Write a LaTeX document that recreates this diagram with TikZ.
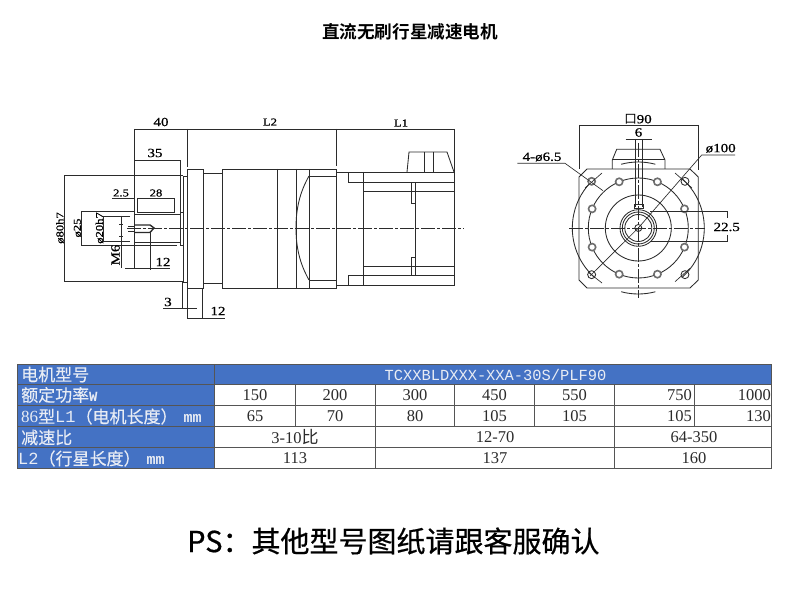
\documentclass[tikz,border=0pt]{standalone}
\usepackage{fontspec}
\setmainfont{Liberation Serif}
\newfontfamily\cjk{Noto Sans CJK SC}
\newfontfamily\cjkmed[FakeBold=0.6]{Noto Sans CJK SC}
\newfontfamily\cjkhead[FakeBold=0.25]{Noto Sans CJK SC}
\newfontfamily\cjkbold[BoldFont={Noto Sans CJK SC Bold}]{Noto Sans CJK SC}
\newfontfamily\monof{Liberation Mono}
\newfontfamily\dimf[FakeStretch=1.2,FakeBold=0.8]{Liberation Serif}
\definecolor{ink}{HTML}{2B2B2B}
\definecolor{gridc}{HTML}{555555}
\definecolor{headblue}{HTML}{4472C4}
\definecolor{headtext}{HTML}{E8ECF4}
\definecolor{holec}{HTML}{6E6E6E}
\tikzset{
  base/.style={draw=ink, line width=0.85pt},
  thin/.style={draw=ink, line width=0.65pt},
  axisl/.style={draw=ink, line width=0.6pt, dash pattern=on 14pt off 2pt on 3pt off 2pt},
  grid/.style={draw=gridc, line width=0.7pt},
  hole/.style={draw=holec, line width=1.6pt},
  dim/.style={text=black, font=\dimf\fontsize{12.5}{12.5}\selectfont, inner sep=0pt},
  dims/.style={text=black, font=\dimf\fontsize{10.5}{10.5}\selectfont, inner sep=0pt},
  dimb/.style={text=black, font=\dimf\fontsize{12.5}{12.5}\selectfont, inner sep=0pt},
  num/.style={text=ink, font=\fontsize{16.5}{16.5}\selectfont, inner sep=0pt},
  head/.style={text=headtext, font=\cjkhead\fontsize{17}{17}\selectfont, inner sep=0pt, anchor=west},
}
\newcommand{\mmlab}{{\bfseries\monof\fontsize{15}{15}\selectfont mm}}

\begin{document}
\begin{tikzpicture}[x=1pt,y=-1pt]
  \useasboundingbox[fill=white] (0,0) rectangle (790,601);

  \node[font=\cjkbold\bfseries\fontsize{17.6}{17.6}\selectfont] (title) at (410,32) {直流无刷行星减速电机};

  % side view, gearbox
  \draw[base] (180,212) rectangle (183,245);
  \draw[base] (183,176) rectangle (187,282);
  \draw[base] (187,169) rectangle (203,288);
  \draw[base] (203,173) rectangle (222,283);
  \draw[base] (222,169) rectangle (336,288);
  \foreach \x in {277,296,309}{\draw[base] (\x,169)--(\x,288);}
  \draw[base] (309,176)--(336,176) (309,280)--(336,280);
  \draw[base] (309,176) .. controls (300,192) and (296,208) .. (296,228) .. controls (296,248) and (300,264) .. (309,280);

  % side view, motor
  \draw[base] (336,172) rectangle (454,285);
  \draw[base] (348,172) rectangle (363,182);
  \draw[base] (348,275) rectangle (363,285);
  \draw[base] (363,172)--(363,285);
  \draw[base] (363,182)--(454,182) (363,191)--(454,191) (363,266)--(454,266) (363,275)--(454,275);
  \draw[base] (411,182) rectangle (415,203);
  \draw[base] (411,257) rectangle (415,275);
  \draw[base] (415,203)--(415,257);
  \draw[base] (407,172)--(409,152)--(447,152)--(454,172);
  \draw[base] (424,152)--(424,172) (433,152)--(433,172);

  % side view, shaft
  \draw[base] (134,214)--(180,214) (134,242)--(180,242) (134,214)--(134,242);
  \draw[base] (137,212.5)--(174,212.5);
  \draw[thin] (140,245)--(177,245);
  \draw[line width=1.4pt,draw=ink] (134,225)--(150,225)--(154,228)--(150,232.5)--(134,232.5);
  \draw[thin] (128,226)--(134,226) (128,231)--(134,231);
  \draw[axisl] (127,228)--(464,228);

  % side view, dimensions
  \draw[thin] (134.5,129)--(454,129);
  \draw[thin] (134.5,129)--(134.5,214);
  \draw[thin] (187,129)--(187,167) (187,288)--(187,318);
  \draw[thin] (336,129)--(336,166);
  \draw[thin] (454,129)--(454,172);
  \draw[thin] (134.5,160)--(180.5,160)--(180.5,212);
  \draw[thin] (112,198)--(134.5,198);
  \draw[thin] (137.3,213)--(137.3,198)--(174.3,198)--(174.3,213);
  \draw[thin] (134,211.7)--(81,211.7)--(81,245)--(140,245);
  \draw[thin] (130,216)--(103,216)--(103,241.7)--(130,241.7);
  \draw[thin] (183,175.7)--(64,175.7)--(64,281.7)--(183,281.7);
  \draw[thin] (121,216)--(121,268);
  \draw[thin] (119,224)--(123,224) (119,236)--(123,236);
  \draw[thin] (125,268)--(170,268);
  \draw[thin] (134,242)--(134,268) (150,232)--(150,270);
  \draw[thin] (182.7,282)--(182.7,308) (163,308)--(197,308);
  \draw[thin] (202.7,288)--(202.7,318) (187,318)--(225,318);

  \node[dim] (d40) at (161,122) {40};
  \node[dim] (d35) at (155,153) {35};
  \node[dims] (d28) at (156,193) {28};
  \node[dims] (d25) at (121,193) {2.5};
  \node[dims] (dl2) at (270,122) {L2};
  \node[dims] (dl1) at (401,123) {L1};
  \node[dims,rotate=90] (dphi80) at (60,228) {ø80h7};
  \node[dims,rotate=90] (dphi25) at (77.5,228) {ø25};
  \node[dims,rotate=90] (dphi20) at (99.5,228) {ø20h7};
  \node[dim,rotate=90] (dm6) at (115.5,255) {M6};
  \node[dim] (d12a) at (163,262) {12};
  \node[dim] (d3) at (168,302) {3};
  \node[dim] (d12b) at (218,311) {12};

  % front view
  \coordinate (C) at (638.3,228);
  \draw[base] (587,169)--(690,169)--(698.3,177)--(698.3,280)--(690,288)--(587,288)--(579,280)--(579,177)--cycle;
  \draw[base] (612.3,169)--(612.3,160)--(616.7,149.3)--(660,149.3)--(665,160)--(665,169);
  \draw[base] (612.3,159.5)--(665,159.5);
  \draw[base] ([shift={(132:66)}]C) arc (132:228:66);
  \draw[base] ([shift={(-48:66)}]C) arc (-48:48:66);
  \draw[base] ([shift={(255:66)}]C) arc (255:285:66);
  \draw[base] ([shift={(75:66)}]C) arc (75:105:66);
  \foreach \r in {50,33,18.3,16,13.5}{\draw[base] (C) circle (\r);}
  \draw[base,fill=white] (C) circle (3.5);
  \foreach \a in {22.5,67.5,...,337.5}{\draw[hole,fill=white] ([shift={(\a:50)}]C) circle (3.6);}
  \draw[hole,fill=white] ([shift={(225:66)}]C) circle (3.6);
  \foreach \a in {45,135,315}{\draw[base] ([shift={(\a:66)}]C) circle (4);}
  \draw[axisl] (569,228)--(705,228);
  \draw[axisl] (638.3,143)--(638.3,298);

  % front view, dimensions
  \draw[thin] (579,125)--(698.3,125);
  \draw[thin] (579,125)--(579,169) (698.3,125)--(698.3,170);
  \draw[thin] (625.7,139)--(651.7,139);
  \draw[thin] (635,139)--(635,207) (642.3,139)--(642.3,207);
  \draw[base] (634,204) rectangle (643,208);
  \draw[thin] (517.3,163.3)--(565,163.3)--(603,190.7);
  \draw[thin] (585,188)--(602,173);
  \draw[thin] (588,272)--(602,283);
  \draw[thin] (675,173)--(692,188);
  \draw[thin] (675,281.7)--(690,268.3);
  \draw[thin] (590,276)--(C)--(701.7,155)--(735,155);
  \draw[thin] (650,211.7)--(728,211.7) (650,241.7)--(728,241.7);
  \draw[thin] (727.3,211.7)--(727.3,218) (727.3,235)--(727.3,241.7);

  \node[dim] (f90) at (638,119) {{\cjk 口}90};
  \node[dim] (f6) at (638.5,132.5) {6};
  \node[dimb] (fhole) at (542,157) {4-ø6.5};
  \node[dimb] (fdia) at (720.7,148.3) {ø100};
  \node[dimb] (f225) at (726.7,227) {22.5};

  % table
  \fill[headblue] (17.3,364) rectangle (771.7,384);
  \fill[headblue] (17.3,384) rectangle (214.3,468.3);
  \draw[grid] (17.3,364) rectangle (771.7,468.3);
  \foreach \y in {384,405.7,426.7,447.7}{\draw[grid] (17.3,\y)--(771.7,\y);}
  \draw[grid] (214.3,364)--(214.3,468.3);
  \foreach \x in {295,454.3,534.3,694.3}{\draw[grid] (\x,384)--(\x,426.7);}
  \foreach \x in {375,614.3}{\draw[grid] (\x,384)--(\x,468.3);}

  \node[head] (h1) at (21,374.5) {电机型号};
  \node[head] (h2) at (21,395) {额定功率{\bfseries\monof\fontsize{14}{14}\selectfont W}};
  \node[head] (h3) at (21,416.5) {{\fontspec{Liberation Serif}86}型{\monof L1}（电机长度）\hspace{6pt}\mmlab};
  \node[head] (h4) at (21,437.5) {减速比};
  \node[head] (h5) at (18,458.5) {{\monof L2}（行星长度）\hspace{6pt}\mmlab};
  \node[text=headtext, font=\monof\fontsize{15.4}{15.4}\selectfont, inner sep=0pt] (model) at (495.5,374.5) {TCXXBLDXXX-XXA-30S/PLF90};

  \foreach \x/\p/\l [count=\i] in {255/150/65,335/200/70,415/300/80,494.5/450/105,574.5/550/105}{
    \node[num] (p\i) at (\x,395.5) {\p};
    \node[num] (l\i) at (\x,416.5) {\l};
  }
  \node[num,anchor=east] (p6) at (692,395.5) {750};
  \node[num,anchor=east] (l6) at (692,416.5) {105};
  \node[num,anchor=east] (p7) at (771,395.5) {1000};
  \node[num,anchor=east] (l7) at (771,416.5) {130};

  \node[num] (r1) at (295,437.5) {3-10{\cjk\fontsize{17}{17}\selectfont 比}};
  \node[num] (r2) at (495,437.5) {12-70};
  \node[num] (r3) at (694,437.5) {64-350};
  \node[num] (s1) at (295,458.5) {113};
  \node[num] (s2) at (495,458.5) {137};
  \node[num] (s3) at (694,458.5) {160};

  \node[font=\cjkmed\fontsize{29}{29}\selectfont, inner sep=0pt, anchor=west] (note) at (187,541) {PS：其他型号图纸请跟客服确认};
\end{tikzpicture}
\end{document}
